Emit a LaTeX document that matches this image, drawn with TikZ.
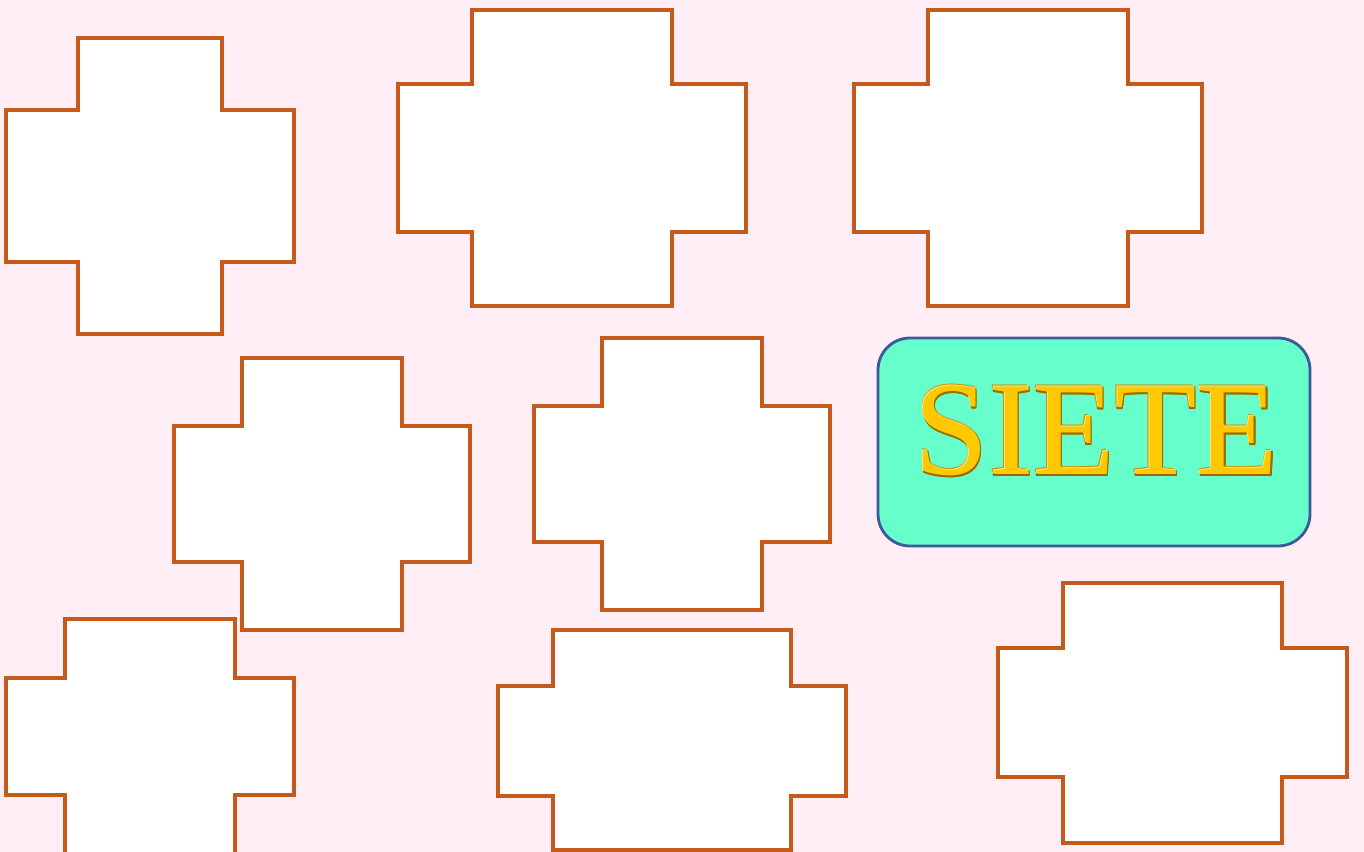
\documentclass[tikz,border=0pt]{standalone}
\usepackage{fontspec}
\newfontfamily\sietefont{Liberation Serif}
\definecolor{bgpink}{HTML}{FFEEF6}
\definecolor{crossline}{HTML}{C55A1A}
\definecolor{boxfill}{HTML}{66FFCC}
\definecolor{boxline}{HTML}{3A5A9A}
\definecolor{goldmain}{HTML}{FFC800}
\definecolor{golddark}{HTML}{9A6A00}
\definecolor{goldedge}{HTML}{C89000}
\definecolor{goldlight}{HTML}{FFE680}
\newcommand{\crossshape}[8]{% L R vl vr top bottom armtop armbottom
  \filldraw[crossshp] (#3,#5) -- (#4,#5) -- (#4,#7) -- (#2,#7) -- (#2,#8) -- (#4,#8)
    -- (#4,#6) -- (#3,#6) -- (#3,#8) -- (#1,#8) -- (#1,#7) -- (#3,#7) -- cycle;}
\begin{document}
\begin{tikzpicture}[x=0.01cm,y=-0.01cm,
  crossshp/.style={fill=white,draw=crossline,line width=0.88pt,line join=miter},
  sietebox/.style={fill=boxfill,draw=boxline,line width=0.8pt,rounded corners=0.32cm},
  sietetext/.style={font=\sietefont\fontsize{38}{40}\selectfont,inner sep=0pt}]
\fill[bgpink] (0,0) rectangle (1364,852);
\useasboundingbox (0,0) rectangle (1364,852);
\begin{scope}
\clip (0,0) rectangle (1364,852);
\crossshape{6}{294}{78}{222}{38}{334}{110}{262}
\crossshape{398}{746}{472}{672}{10}{306}{84}{232}
\crossshape{854}{1202}{928}{1128}{10}{306}{84}{232}
\crossshape{174}{470}{242}{402}{358}{630}{426}{562}
\crossshape{534}{830}{602}{762}{338}{610}{406}{542}
\crossshape{6}{294}{65}{235}{619}{900}{678}{795}
\crossshape{498}{846}{553}{791}{630}{850}{686}{796}
\crossshape{998}{1347}{1063}{1282}{583}{843}{648}{777}
\end{scope}
\draw[sietebox] (878,338) rectangle (1310,546);
\node[sietetext,text=golddark] (sieteshadowa) at (1097.8,432.8) {SIETE};
\node[sietetext,text=golddark] (sieteshadowb) at (1097.8,431) {SIETE};
\node[sietetext,text=golddark] (sieteshadowc) at (1096,432.8) {SIETE};
\node[sietetext,text=goldedge] (sieteedge) at (1095,429) {SIETE};
\node[sietetext,text=goldlight] (sietelight) at (1095.6,429.6) {SIETE};
\node[sietetext,text=goldmain] (siete) at (1096.6,430.8) {SIETE};
\end{tikzpicture}
\end{document}
